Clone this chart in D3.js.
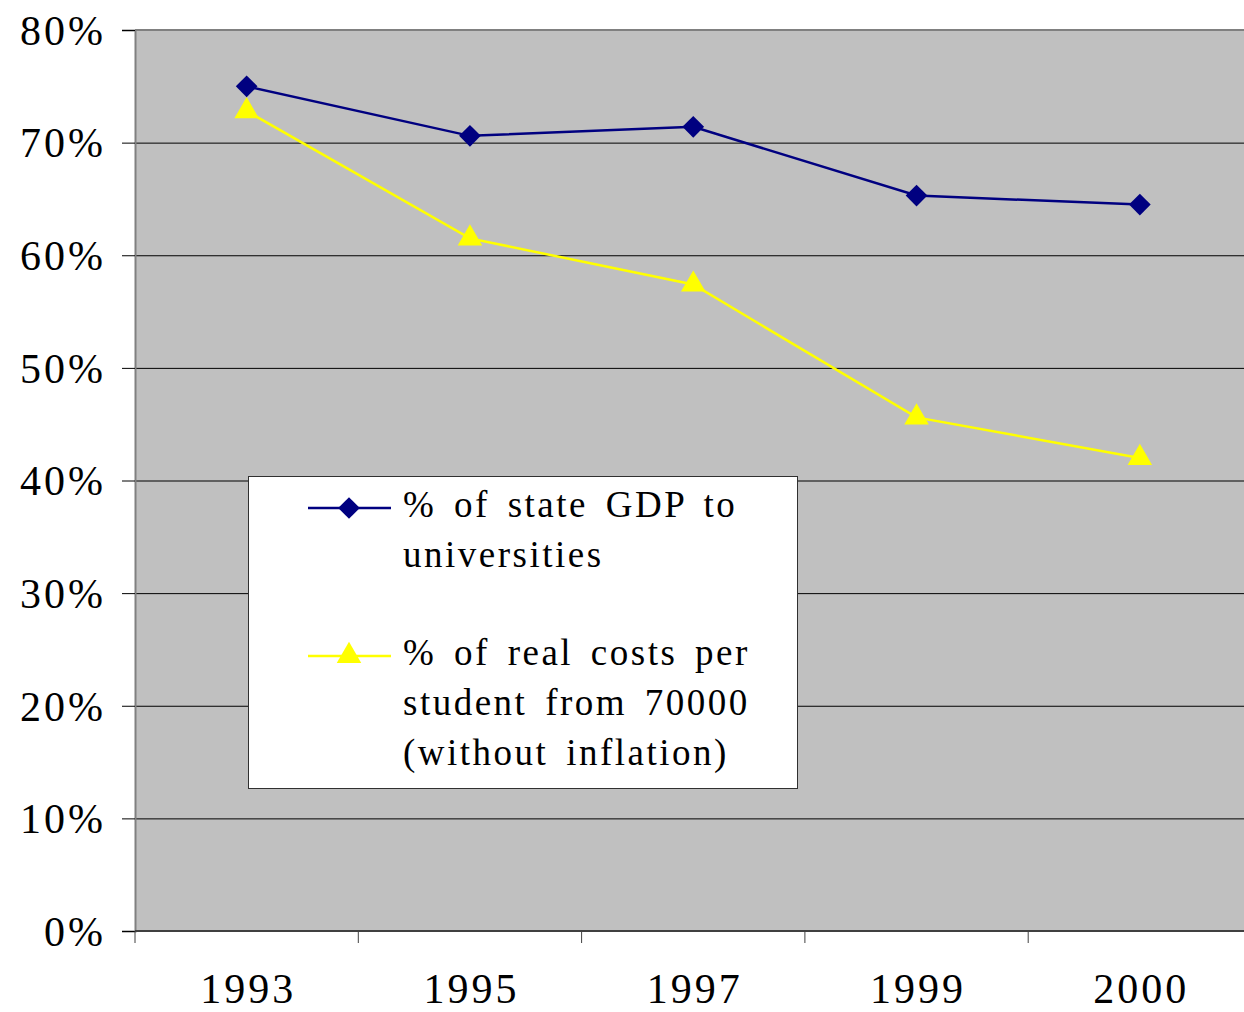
<!DOCTYPE html>
<html>
<head>
<meta charset="utf-8">
<script src="https://cdn.jsdelivr.net/npm/d3@7"></script>
<style>
  body { margin: 0; background: #fff; }
  svg text { fill: #000; }
</style>
</head>
<body>
<svg id="chart"></svg>
<script>
// data
var years = ['1993', '1995', '1997', '1999', '2000']
var gdpShare = [75.0, 70.6, 71.4, 65.3, 64.5]
var realCosts = [72.8, 61.5, 57.4, 45.6, 42.0]
var yTicks = [0, 10, 20, 30, 40, 50, 60, 70, 80]
var seriesNames = [
  ['% of state GDP to', 'universities'],
  ['% of real costs per', 'student from 70000', '(without inflation)']
]

var svgWidth = 1244
var svgHeight = 1012
var plotLeft = 135, plotTop = 30, plotBottom = 931
var bandW = 223.3
var serif = "'Liberation Serif', 'Times New Roman', serif"

var svg = d3.select('#chart')
  .attr('width', svgWidth)
  .attr('height', svgHeight)

var x = d3.scaleBand()
  .domain(years)
  .range([plotLeft, plotLeft + bandW * years.length])

var y = d3.scaleLinear()
  .domain([0, 80])
  .range([plotBottom, plotTop])

// plot area
svg.append('rect')
  .attr('x', plotLeft)
  .attr('y', plotTop)
  .attr('width', svgWidth - plotLeft)
  .attr('height', plotBottom - plotTop)
  .attr('fill', '#c0c0c0')

// grid lines
svg.selectAll('.grid')
  .data(yTicks.filter(d => d > 0 && d < 80))
  .enter().append('line')
  .attr('x1', plotLeft).attr('x2', svgWidth)
  .attr('y1', d => y(d) + 0.5).attr('y2', d => y(d) + 0.5)
  .attr('stroke', '#000')
  .attr('stroke-width', 1)

// top border
svg.append('line')
  .attr('x1', plotLeft).attr('x2', svgWidth)
  .attr('y1', plotTop).attr('y2', plotTop)
  .attr('stroke', '#808080').attr('stroke-width', 2)

// y axis
var yAxis = d3.axisLeft(y)
  .tickValues(yTicks)
  .tickSize(13)
  .tickPadding(16)
  .tickFormat(d => d + '%')

var gy = svg.append('g')
  .attr('transform', 'translate(' + plotLeft + ',0)')
  .call(yAxis)
gy.select('.domain').attr('stroke', '#808080').attr('stroke-width', 2)
gy.selectAll('.tick line').attr('stroke', '#000').attr('stroke-width', 1)
gy.selectAll('.tick text')
  .style('font-family', serif)
  .style('font-size', '42px')
  .style('letter-spacing', '3px')
  .attr('dy', '0.34em')

// x axis
var gx = svg.append('g')
  .attr('transform', 'translate(0,' + plotBottom + ')')
gx.append('line')
  .attr('x1', plotLeft).attr('x2', svgWidth)
  .attr('stroke', '#404040').attr('stroke-width', 2)
gx.selectAll('.xtick')
  .data(years)
  .enter().append('line')
  .attr('x1', d => x(d)).attr('x2', d => x(d))
  .attr('y1', 0).attr('y2', 12)
  .attr('stroke', '#404040').attr('stroke-width', 1)
gx.selectAll('.xlabel')
  .data(years)
  .enter().append('text')
  .attr('x', d => x(d) + x.bandwidth() / 2 + 1.5)
  .attr('y', 72)
  .attr('text-anchor', 'middle')
  .style('font-family', serif)
  .style('font-size', '42px')
  .style('letter-spacing', '3px')
  .text(d => d)

var cx = d => x(d) + x.bandwidth() / 2

var line = d3.line()
  .x((d, i) => cx(years[i]))
  .y(d => y(d))

var diamond = d3.symbol().type(d3.symbolDiamond2).size(300)
var triangle = d3.symbol().type(d3.symbolTriangle).size(260)

var series = [
  { values: gdpShare, color: '#000080', symbol: diamond },
  { values: realCosts, color: '#ffff00', symbol: triangle }
]

series.slice().reverse().forEach(s => {
  svg.append('path')
    .datum(s.values)
    .attr('d', line)
    .attr('fill', 'none')
    .attr('stroke', s.color)
    .attr('stroke-width', 2.5)
  svg.selectAll(null)
    .data(s.values)
    .enter().append('path')
    .attr('d', s.symbol)
    .attr('transform', (d, i) => 'translate(' + cx(years[i]) + ',' + y(d) + ')')
    .attr('fill', s.color)
})

// legend
var legend = svg.append('g')
legend.append('rect')
  .attr('x', 248.5).attr('y', 476.5)
  .attr('width', 549).attr('height', 312)
  .attr('fill', '#fff')
  .attr('stroke', '#303030')
  .attr('stroke-width', 1)

var legendRows = [508, 656]
series.forEach((s, i) => {
  var ly = legendRows[i]
  legend.append('line')
    .attr('x1', 308).attr('x2', 391)
    .attr('y1', ly).attr('y2', ly)
    .attr('stroke', s.color).attr('stroke-width', 2.5)
  legend.append('path')
    .attr('d', s.symbol)
    .attr('transform', 'translate(349,' + ly + ')')
    .attr('fill', s.color)
  var t = legend.append('text')
    .attr('x', 403)
    .attr('y', ly + 9)
    .style('font-family', serif)
    .style('font-size', '37px')
    .style('letter-spacing', '2.5px')
    .style('word-spacing', '6px')
  seriesNames[i].forEach((ln, j) => {
    t.append('tspan')
      .attr('x', 403)
      .attr('dy', j === 0 ? 0 : 50)
      .text(ln)
  })
})
</script>
</body>
</html>
